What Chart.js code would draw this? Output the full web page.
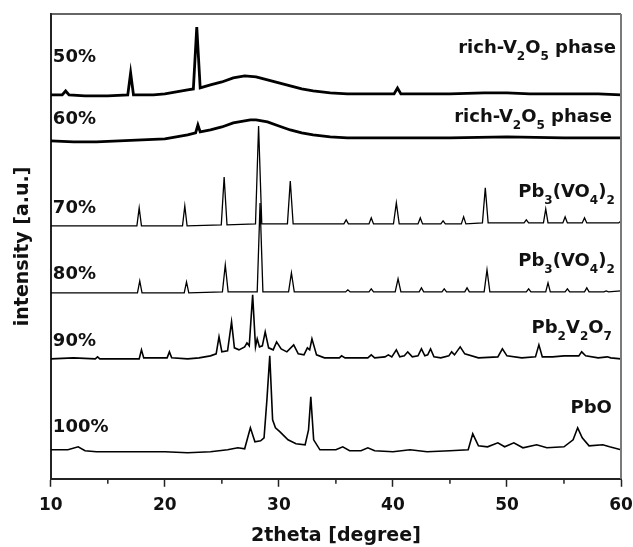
<!DOCTYPE html>
<html>
<head>
<meta charset="utf-8">
<script src="https://cdn.jsdelivr.net/npm/chart.js@4.4.1/dist/chart.umd.min.js"></script>
<style>
  html, body { margin: 0; padding: 0; background: #fff; }
  #wrap { width: 633px; height: 547px; }
</style>
</head>
<body>
<div id="wrap"><canvas id="xrd" width="633" height="547"></canvas></div>
<script>
// stacked XRD patterns, intensity in a.u. (offsets already included)
const theta50 = [10, 11, 11.3, 11.6, 13, 15, 16.75, 17.0, 17.25, 19,
                 20, 21, 22, 22.5, 22.8, 23.1, 23.4, 24, 25, 26,
                 27, 28, 29, 30, 31, 32, 33, 34.5, 36, 38,
                 40.1, 40.4, 40.7, 42, 45, 48, 50, 52, 55, 58, 60];
const int50   = [384, 384, 388, 384, 383, 383, 384, 406, 384, 384,
                 385, 387, 389, 390, 452, 391, 392, 394, 397, 401,
                 403, 402, 399, 396, 393, 390, 388, 386, 385, 385,
                 385, 391, 385, 385, 385, 386, 386, 385, 385, 385, 384];

const theta60 = [10, 12, 14, 16, 18, 20, 21, 22, 22.7, 22.9,
                 23.1, 24, 25, 26, 27, 27.5, 28, 29, 30, 31,
                 32, 33, 34.5, 36, 40, 45, 50, 55, 60];
const int60   = [338, 337, 337, 338, 339, 340, 342, 344, 346, 354,
                 347, 349, 352, 356, 358, 359, 359, 357, 353, 349,
                 346, 344, 342, 341, 341, 341, 342, 341, 341];

const theta70 = [10, 17.55, 17.75, 17.95, 21.55, 21.75, 21.95, 24.95, 25.2, 25.45,
                 27.95, 28.22, 28.5, 30.75, 31.0, 31.25, 35.7, 35.9, 36.1, 37.9,
                 38.1, 38.3, 40.05, 40.3, 40.55, 42.2, 42.4, 42.6, 44.2, 44.4,
                 44.6, 46.0, 46.2, 46.4, 47.85, 48.1, 48.35, 51.5, 51.7, 51.9,
                 53.2, 53.4, 53.6, 54.9, 55.1, 55.3, 56.6, 56.8, 57.0, 59.8, 60];
const int70   = [253, 253, 271, 253, 253, 273, 253, 254, 302, 254,
                 255, 353, 255, 255, 298, 255, 255, 259, 255, 255,
                 261, 255, 255, 276, 255, 255, 261, 255, 255, 258,
                 255, 255, 262, 255, 256, 291, 256, 256, 259, 256,
                 256, 270, 256, 256, 262, 256, 256, 261, 256, 256, 258];

const theta80 = [10, 17.6, 17.8, 18.0, 21.7, 21.9, 22.1, 25.05, 25.3, 25.55,
                 28.1, 28.35, 28.6, 30.85, 31.1, 31.35, 35.85, 36.05, 36.25, 37.9,
                 38.1, 38.3, 40.2, 40.45, 40.7, 42.3, 42.5, 42.7, 44.3, 44.5,
                 44.7, 46.3, 46.5, 46.7, 48.0, 48.25, 48.5, 51.7, 51.9, 52.1,
                 53.4, 53.6, 53.8, 55.1, 55.3, 55.5, 56.8, 57.0, 57.2, 58.5,
                 58.7, 58.9, 60];
const int80   = [186, 186, 198, 186, 186, 197, 186, 187, 214, 187,
                 187, 276, 187, 187, 206, 187, 187, 189, 187, 187,
                 190, 187, 187, 200, 187, 187, 191, 187, 187, 190,
                 187, 187, 191, 187, 187, 209, 187, 187, 190, 187,
                 187, 196, 187, 187, 190, 187, 187, 191, 187, 187,
                 188, 187, 188];

const theta90 = [10, 12, 13.9, 14.1, 14.3, 16, 17.75, 17.95, 18.15, 20.2,
                 20.4, 20.6, 22, 23, 24.0, 24.5, 24.75, 25.0, 25.5, 25.85,
                 26.1, 26.5, 27.0, 27.2, 27.4, 27.7, 27.95, 28.1, 28.3, 28.55,
                 28.8, 29.1, 29.5, 29.8, 30.2, 30.7, 31.3, 31.7, 32.2, 32.5,
                 32.7, 32.9, 33.3, 34, 35.3, 35.5, 35.8, 37.8, 38.1, 38.4,
                 39.3, 39.6, 39.9, 40.3, 40.6, 41.0, 41.3, 41.7, 42.2, 42.5,
                 42.8, 43.05, 43.3, 43.6, 44.2, 44.9, 45.15, 45.4, 45.9, 46.3,
                 47.5, 49.2, 49.6, 50.0, 51.3, 52.5, 52.8, 53.1, 54, 55,
                 56.3, 56.55, 56.9, 58, 58.8, 59.1, 60];
const int90   = [120, 121, 120, 122, 120, 120, 120, 129, 121, 121,
                 127, 121, 120, 121, 123, 125, 142, 127, 128, 157,
                 131, 129, 132, 136, 133, 184, 132, 140, 132, 133,
                 147, 131, 129, 137, 130, 127, 134, 125, 124, 131,
                 129, 140, 124, 121, 121, 123, 121, 121, 124, 121,
                 122, 124, 122, 129, 122, 123, 127, 122, 123, 130,
                 123, 124, 130, 122, 121, 123, 127, 124, 132, 125,
                 121, 122, 130, 123, 121, 122, 134, 122, 122, 123,
                 123, 127, 123, 121, 122, 121, 120];

const theta100 = [10, 11.5, 12.4, 13, 14, 16, 18, 20, 22, 24,
                  25.5, 26.4, 27.0, 27.5, 27.9, 28.4, 28.7, 28.95, 29.2, 29.45,
                  29.7, 30.1, 30.8, 31.5, 32.3, 32.6, 32.8, 33.05, 33.6, 35,
                  35.6, 36.2, 37.2, 37.8, 38.4, 40, 41.5, 43, 45, 46.6,
                  47.0, 47.5, 48.3, 49.2, 49.8, 50.6, 51.4, 52.6, 53.5, 55.0,
                  55.8, 56.2, 56.6, 57.2, 58.4, 59, 60];
const int100   = [29, 29, 32, 28, 27, 27, 27, 27, 26, 27,
                  29, 31, 30, 51, 37, 38, 41, 79, 123, 59,
                  51, 47, 39, 35, 34, 49, 82, 39, 29, 29,
                  32, 28, 28, 31, 28, 27, 29, 27, 28, 29,
                  45, 33, 32, 36, 32, 36, 31, 34, 31, 32,
                  39, 51, 41, 33, 34, 32, 29];

const xTicks = [10, 20, 30, 40, 50, 60];
const xMinorTicks = [15, 25, 35, 45, 55];

const samples = [
  { name: '50%',  theta: theta50,  val: int50,  width: 2.8 },
  { name: '60%',  theta: theta60,  val: int60,  width: 2.8 },
  { name: '70%',  theta: theta70,  val: int70,  width: 1.3 },
  { name: '80%',  theta: theta80,  val: int80,  width: 1.3 },
  { name: '90%',  theta: theta90,  val: int90,  width: 1.6 },
  { name: '100%', theta: theta100, val: int100, width: 1.6 }
];

// annotation text, placed in data units
const leftLabels = [
  { text: '50%',  x: 10.18, y: 417 },
  { text: '60%',  x: 10.18, y: 355 },
  { text: '70%',  x: 10.18, y: 266 },
  { text: '80%',  x: 10.18, y: 200 },
  { text: '90%',  x: 10.18, y: 133 },
  { text: '100%', x: 10.18, y: 47 }
];
const phaseLabels = [
  { x: 59.55, y: 426, parts: [['rich-V'], ['2', 1], ['O'], ['5', 1], [' phase']] },
  { x: 59.2,  y: 357, parts: [['rich-V'], ['2', 1], ['O'], ['5', 1], [' phase']] },
  { x: 59.45, y: 282, parts: [['Pb'], ['3', 1], ['(VO'], ['4', 1], [')'], ['2', 1]] },
  { x: 59.45, y: 213, parts: [['Pb'], ['3', 1], ['(VO'], ['4', 1], [')'], ['2', 1]] },
  { x: 59.2,  y: 146, parts: [['Pb'], ['2', 1], ['V'], ['2', 1], ['O'], ['7', 1]] },
  { x: 59.2,  y: 66,  parts: [['PbO']] }
];

const FONT = "'DejaVu Sans', sans-serif";

const labelPlugin = {
  id: 'labels',
  afterDatasetsDraw(chart) {
    const { ctx, scales: { x, y } } = chart;
    ctx.save();
    ctx.fillStyle = '#111';
    ctx.textBaseline = 'alphabetic';
    ctx.textAlign = 'left';
    ctx.font = 'bold 18px ' + FONT;
    leftLabels.forEach(l => {
      ctx.fillText(l.text, x.getPixelForValue(l.x), y.getPixelForValue(l.y));
    });
    phaseLabels.forEach(l => {
      let total = 0;
      l.parts.forEach(p => {
        ctx.font = (p[1] ? 'bold 12px ' : 'bold 18px ') + FONT;
        total += ctx.measureText(p[0]).width;
      });
      let px = x.getPixelForValue(l.x) - total;
      const py = y.getPixelForValue(l.y);
      l.parts.forEach(p => {
        ctx.font = (p[1] ? 'bold 12px ' : 'bold 18px ') + FONT;
        ctx.fillText(p[0], px, p[1] ? py + 7 : py);
        px += ctx.measureText(p[0]).width;
      });
    });
    ctx.restore();
  }
};

const framePlugin = {
  id: 'frame',
  afterDraw(chart) {
    const { ctx, chartArea: a, scales: { x } } = chart;
    ctx.save();
    ctx.strokeStyle = '#333';
    ctx.lineWidth = 1.5;
    ctx.beginPath();
    ctx.moveTo(a.left, a.top);
    ctx.lineTo(a.right, a.top);
    ctx.stroke();
    ctx.strokeStyle = '#7a7a7a';
    ctx.lineWidth = 2;
    ctx.beginPath();
    ctx.moveTo(a.right, a.top);
    ctx.lineTo(a.right, a.bottom);
    ctx.stroke();
    ctx.strokeStyle = '#222';
    ctx.lineWidth = 1.5;
    xMinorTicks.forEach(v => {
      const px = x.getPixelForValue(v);
      ctx.beginPath();
      ctx.moveTo(px, a.bottom);
      ctx.lineTo(px, a.bottom + 5);
      ctx.stroke();
    });
    ctx.restore();
  }
};

new Chart(document.getElementById('xrd').getContext('2d'), {
  type: 'line',
  data: {
    datasets: samples.map(s => ({
      label: s.name,
      data: s.theta.map((t, i) => ({ x: t, y: s.val[i] })),
      borderColor: '#000',
      borderWidth: s.width,
      pointRadius: 0,
      tension: 0,
      fill: false
    }))
  },
  options: {
    responsive: false,
    animation: false,
    layout: { padding: { left: 8, top: 14, right: 12, bottom: 0 } },
    plugins: { legend: { display: false }, tooltip: { enabled: false } },
    scales: {
      x: {
        type: 'linear',
        min: 10,
        max: 60,
        afterFit: s => { s.paddingRight = 0; },
        ticks: {
          stepSize: 5,
          padding: 9,
          color: '#111',
          font: { family: FONT, size: 17, weight: 'bold' },
          callback: v => xTicks.includes(v) ? String(v) : ''
        },
        grid: {
          drawOnChartArea: false,
          tickLength: 8,
          tickWidth: 1.5,
          tickColor: c => (c.tick && xTicks.includes(c.tick.value)) ? '#222' : 'rgba(0,0,0,0)'
        },
        border: { color: '#222', width: 2 },
        title: {
          display: true,
          text: '2theta [degree]',
          color: '#111',
          font: { family: FONT, size: 19, weight: 'bold' },
          padding: { top: -1, bottom: 0 }
        }
      },
      y: {
        min: 0,
        max: 465,
        ticks: { display: false },
        grid: { display: false },
        border: { color: '#222', width: 2 },
        title: {
          display: true,
          text: 'intensity [a.u.]',
          color: '#111',
          font: { family: FONT, size: 19, weight: 'bold' },
          padding: { top: 4, bottom: 8 }
        }
      }
    }
  },
  plugins: [labelPlugin, framePlugin]
});
</script>
</body>
</html>
